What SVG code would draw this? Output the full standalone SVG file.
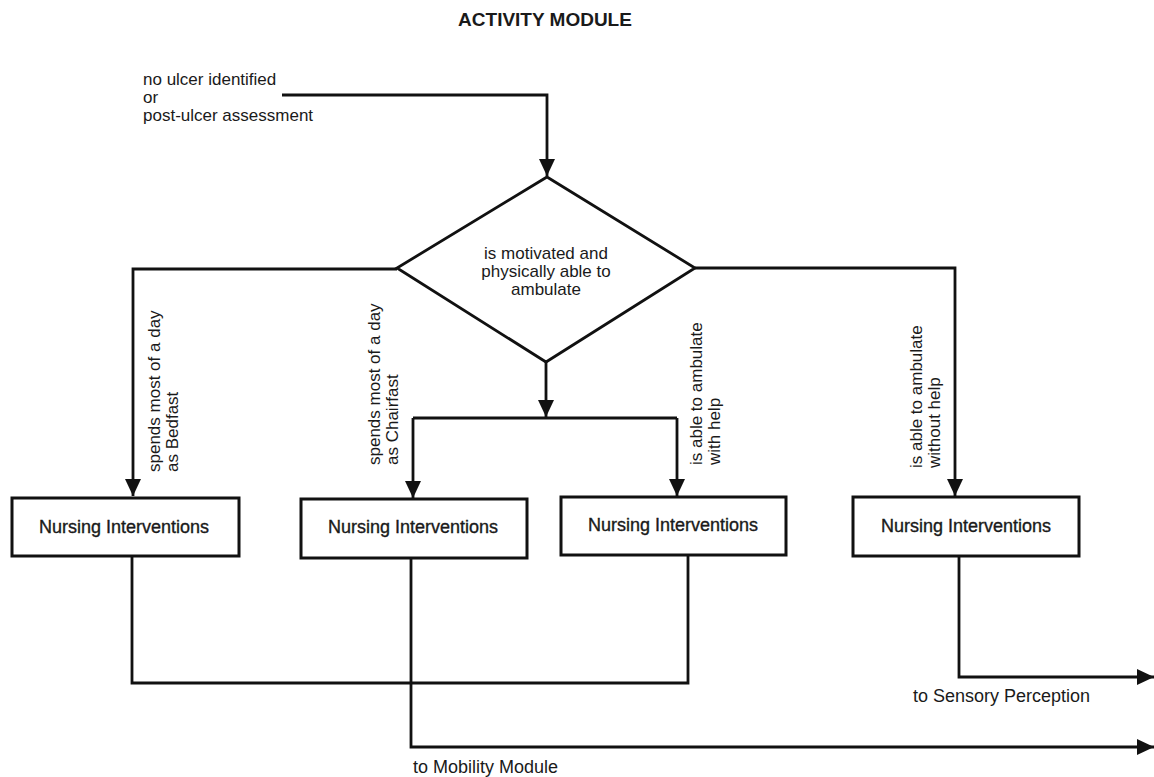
<svg xmlns="http://www.w3.org/2000/svg" width="1154" height="777" viewBox="0 0 1154 777">
  <style>
    text { font-family: "Liberation Sans", Arial, sans-serif; font-size: 18px; fill: #1a1a1a; }
    .title { font-weight: bold; font-size: 19px; }
    .multi { font-size: 17px; }
    .box { fill: #ffffff; stroke: #111111; stroke-width: 3; }
    .dia { fill: #ffffff; stroke: #111111; stroke-width: 2.8; }
    .ni { stroke: #1a1a1a; stroke-width: 0.35; }
    .wire { fill: none; stroke: #111111; stroke-width: 2.8; stroke-linejoin: miter; }
    .mid { text-anchor: middle; }
  </style>
  <defs>
    <marker id="arrow" viewBox="0 0 17 16" refX="17" refY="8" markerWidth="17" markerHeight="16" markerUnits="userSpaceOnUse" orient="auto">
      <path d="M0,0 L17,8 L0,16 Z" fill="#111111"/>
    </marker>
  </defs>

  <text class="title mid" x="545" y="26">ACTIVITY MODULE</text>

  <g id="start-label" class="multi">
    <text class="multi" x="143" y="85">no ulcer identified</text>
    <text class="multi" x="143" y="103">or</text>
    <text class="multi" x="143" y="121">post-ulcer assessment</text>
  </g>

  <!-- connectors -->
  <g id="connectors" class="wire">
    <path d="M282,95 H547 V176" marker-end="url(#arrow)"/>
    <path d="M397,269 H133 V496" marker-end="url(#arrow)"/>
    <path d="M695,268 H955 V496" marker-end="url(#arrow)"/>
    <path d="M546,362 V417" marker-end="url(#arrow)"/>
    <path d="M413,418 H677"/>
    <path d="M413,418 V498" marker-end="url(#arrow)"/>
    <path d="M677,418 V496" marker-end="url(#arrow)"/>
    <path d="M132,556 V683 H688 V555"/>
    <path d="M411,558 V747 H1154" marker-end="url(#arrow)"/>
    <path d="M959,556 V677 H1154" marker-end="url(#arrow)"/>
  </g>

  <g id="decision">
    <polygon class="dia" points="547,177 695,268 546,362 397,268"/>
    <text class="mid multi" x="546" y="259">is motivated and</text>
    <text class="mid multi" x="546" y="277">physically able to</text>
    <text class="mid multi" x="546" y="295">ambulate</text>
  </g>

  <g id="label-bedfast" transform="translate(160,472) rotate(-90)">
    <text class="multi" x="0" y="0">spends most of a day</text>
    <text class="multi" x="0" y="18">as Bedfast</text>
  </g>
  <g id="label-chairfast" transform="translate(380,465) rotate(-90)">
    <text class="multi" x="0" y="0">spends most of a day</text>
    <text class="multi" x="0" y="18">as Chairfast</text>
  </g>
  <g id="label-with-help" transform="translate(702,465) rotate(-90)">
    <text class="multi" x="0" y="0">is able to ambulate</text>
    <text class="multi" x="0" y="18">with help</text>
  </g>
  <g id="label-without-help" transform="translate(922,468) rotate(-90)">
    <text class="multi" x="0" y="0">is able to ambulate</text>
    <text class="multi" x="0" y="18">without help</text>
  </g>

  <g id="nursing-bedfast">
    <rect class="box" x="12" y="498" width="227" height="58"/>
    <text class="mid ni" x="124" y="533">Nursing Interventions</text>
  </g>
  <g id="nursing-chairfast">
    <rect class="box" x="301" y="499" width="226" height="59"/>
    <text class="mid ni" x="413" y="533">Nursing Interventions</text>
  </g>
  <g id="nursing-with-help">
    <rect class="box" x="561" y="497" width="225" height="58"/>
    <text class="mid ni" x="673" y="531">Nursing Interventions</text>
  </g>
  <g id="nursing-without-help">
    <rect class="box" x="853" y="497" width="226" height="59"/>
    <text class="mid ni" x="966" y="532">Nursing Interventions</text>
  </g>

  <g id="exit-labels">
    <text x="913" y="702">to Sensory Perception</text>
    <text x="413" y="773">to Mobility Module</text>
  </g>
</svg>
